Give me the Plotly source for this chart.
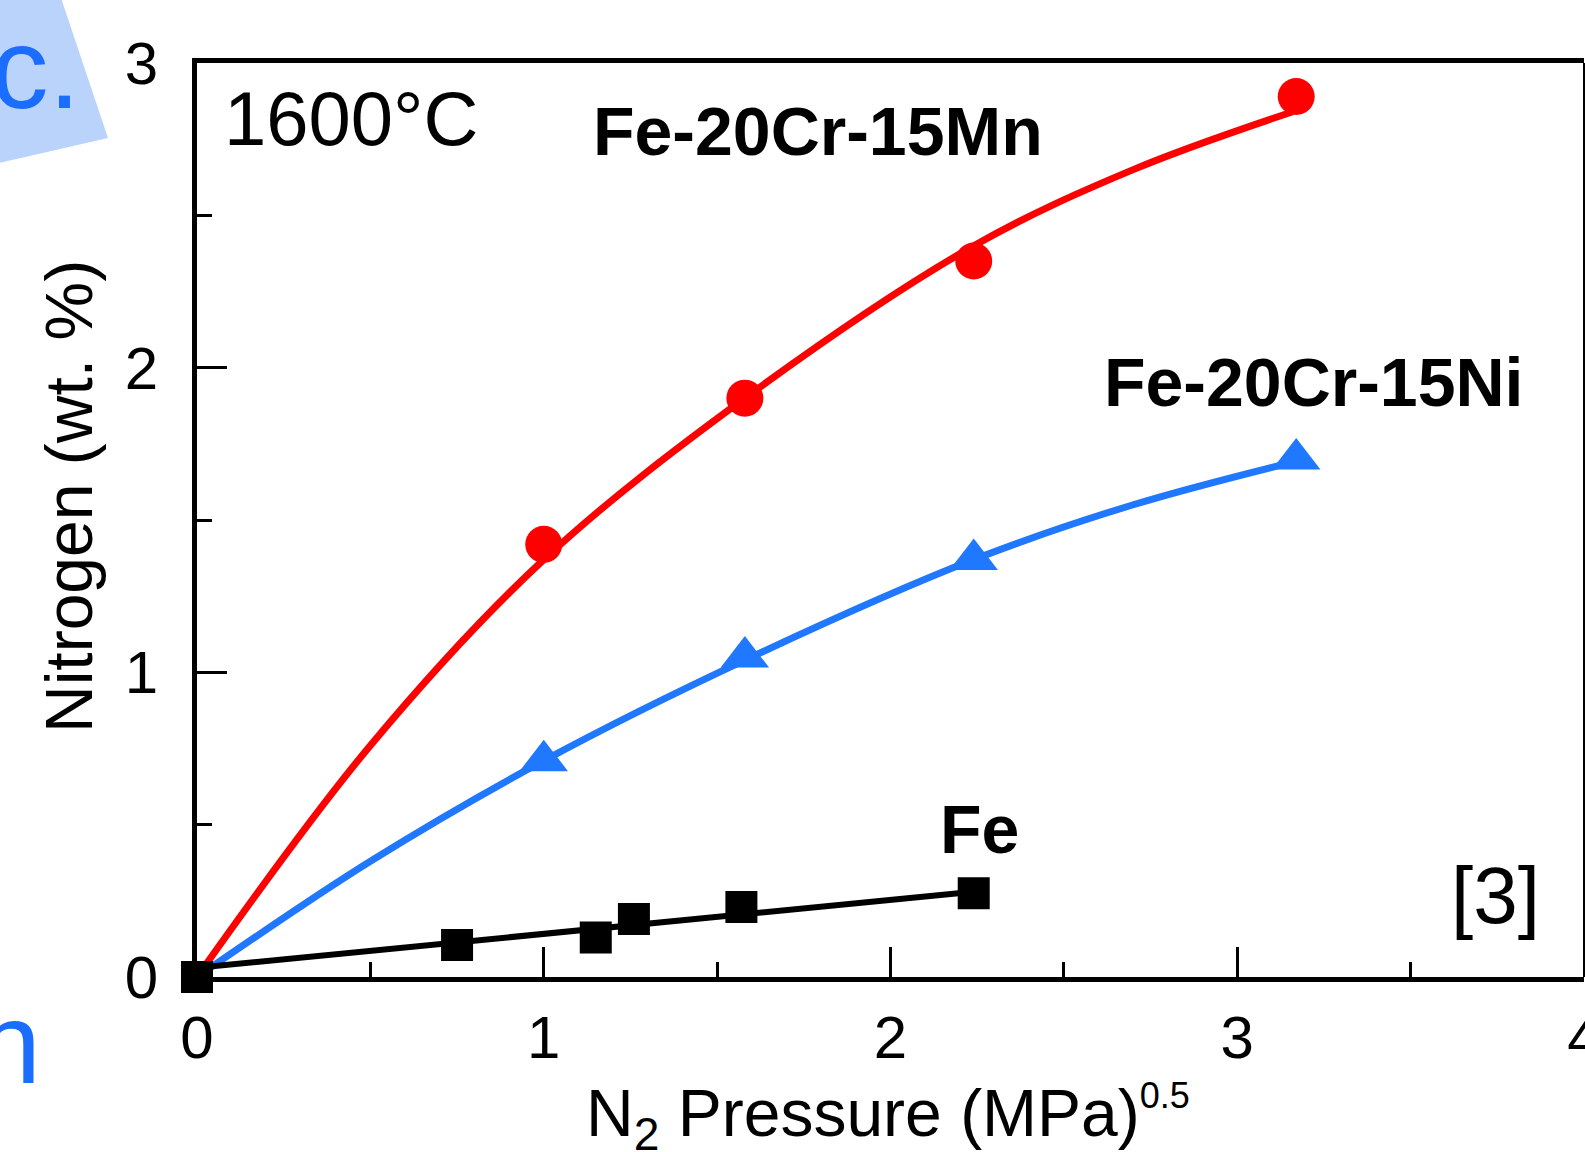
import plotly.graph_objects as go

# ---- data ----
mn_x = [1.0, 1.58, 2.24, 3.17]
mn_y = [1.42, 1.90, 2.35, 2.89]
mn_fit_x = [0, 0.5, 1.0, 1.58, 2.24, 2.7, 3.16]
mn_fit_y = [0, 0.76, 1.37, 1.90, 2.40, 2.65, 2.84]

ni_x = [1.0, 1.58, 2.24, 3.17]
ni_y = [0.71, 1.05, 1.37, 1.70]
ni_fit_x = [0, 0.5, 1.0, 1.58, 2.24, 2.7, 3.16]
ni_fit_y = [0, 0.38, 0.71, 1.04, 1.37, 1.55, 1.69]

fe_x = [0, 0.75, 1.15, 1.26, 1.57, 2.24]
fe_y = [0, 0.105, 0.13, 0.19, 0.23, 0.275]
fe_fit_x = [0, 2.24]
fe_fit_y = [0.03, 0.28]

x_ticks = [0, 1, 2, 3, 4]
y_ticks = [0, 1, 2, 3]

RED = "#ff0000"
BLUE = "#1f78ff"
BLACK = "#000000"
FONT = "Liberation Sans, Arial, sans-serif"

# pixel geometry of the plot area
W, H = 1585, 1152
L, R, T, B = 197, 1584, 63, 977

def px(x):
    return (x - L) / (R - L)

def py(y):
    return (B - y) / (B - T)

fig = go.Figure()

# fitted curves
fig.add_trace(go.Scatter(x=mn_fit_x, y=mn_fit_y, mode="lines",
                         line=dict(color=RED, width=7, shape="spline", smoothing=1.0),
                         cliponaxis=False, showlegend=False))
fig.add_trace(go.Scatter(x=ni_fit_x, y=ni_fit_y, mode="lines",
                         line=dict(color=BLUE, width=7, shape="spline", smoothing=1.0),
                         cliponaxis=False, showlegend=False))
fig.add_trace(go.Scatter(x=fe_fit_x, y=fe_fit_y, mode="lines",
                         line=dict(color=BLACK, width=6),
                         cliponaxis=False, showlegend=False))

# markers
fig.add_trace(go.Scatter(x=mn_x, y=mn_y, mode="markers",
                         marker=dict(symbol="circle", size=37, color=RED, line=dict(width=0)),
                         cliponaxis=False, showlegend=False))
fig.add_trace(go.Scatter(x=ni_x, y=ni_y, mode="markers",
                         marker=dict(symbol="triangle-up", size=42, color=BLUE, line=dict(width=0)),
                         cliponaxis=False, showlegend=False))
fig.add_trace(go.Scatter(x=fe_x, y=fe_y, mode="markers",
                         marker=dict(symbol="square", size=32, color=BLACK, line=dict(width=0)),
                         cliponaxis=False, showlegend=False))

axis_common = dict(showgrid=False, zeroline=False, showline=True, linecolor=BLACK,
                   ticks="inside", tickcolor=BLACK, ticklen=30, tickwidth=3,
                   ticklabeloverflow="allow", automargin=False,
                   tickfont=dict(family=FONT, size=60, color=BLACK))

fig.update_xaxes(range=[0, 4], tickvals=x_ticks, ticktext=[str(v) for v in x_ticks],
                 linewidth=5, mirror=True, ticklabelstandoff=4,
                 minor=dict(ticks="inside", dtick=0.5, ticklen=15, tickwidth=3, tickcolor=BLACK),
                 **axis_common)
fig.update_yaxes(range=[0, 3], tickvals=y_ticks, ticktext=[str(v) for v in y_ticks],
                 linewidth=5, ticklabelstandoff=22,
                 minor=dict(ticks="inside", dtick=0.5, ticklen=15, tickwidth=3, tickcolor=BLACK),
                 **axis_common)

shapes = [
    # thin right border
    dict(type="line", xref="paper", yref="paper", x0=1, x1=1, y0=0, y1=1,
         line=dict(color=BLACK, width=2)),
    # light blue slide decoration (top-left)
    dict(type="path", xref="paper", yref="paper", layer="below",
         path=f"M {px(-5)},{py(-5)} L {px(60)},{py(-5)} L {px(108)},{py(138)} L {px(-5)},{py(164)} Z",
         fillcolor="#b9d3fb", line=dict(width=0)),
]

annotations = [
    dict(text="1600°C", x=px(222), y=py(119), xanchor="left", yanchor="middle",
         font=dict(family=FONT, size=76, color=BLACK)),
    dict(text="<b>Fe-20Cr-15Mn</b>", x=px(591), y=py(131), xanchor="left", yanchor="middle",
         font=dict(family=FONT, size=68, color=BLACK)),
    dict(text="<b>Fe-20Cr-15Ni</b>", x=px(1102), y=py(382), xanchor="left", yanchor="middle",
         font=dict(family=FONT, size=68, color=BLACK)),
    dict(text="<b>Fe</b>", x=px(938), y=py(829), xanchor="left", yanchor="middle",
         font=dict(family=FONT, size=68, color=BLACK)),
    dict(text="[3]", x=px(1449), y=py(895), xanchor="left", yanchor="middle",
         font=dict(family=FONT, size=80, color=BLACK)),
    dict(text="Nitrogen (wt. %)", x=px(69), y=py(497), xanchor="center", yanchor="middle",
         textangle=-90, font=dict(family=FONT, size=66, color=BLACK)),
    dict(text="N<sub>2</sub> Pressure (MPa)<sup><span style='font-size:36px'>0.5</span></sup>",
         x=px(888), y=py(1117),
         xanchor="center", yanchor="middle", font=dict(family=FONT, size=66, color=BLACK)),
    # cropped slide text fragments
    dict(text="c.", x=px(82), y=py(68), xanchor="right", yanchor="middle",
         font=dict(family=FONT, size=115, color="#1a6dff")),
    dict(text="n", x=px(43), y=py(1043), xanchor="right", yanchor="middle",
         font=dict(family=FONT, size=115, color="#1a6dff")),
]
for a in annotations:
    a.update(xref="paper", yref="paper", showarrow=False)

fig.update_layout(
    width=W, height=H,
    margin=dict(l=L, r=W - R, t=T, b=H - B, pad=0, autoexpand=False),
    plot_bgcolor="white", paper_bgcolor="white",
    shapes=shapes, annotations=annotations,
    showlegend=False,
)

fig.write_html("out.html")
